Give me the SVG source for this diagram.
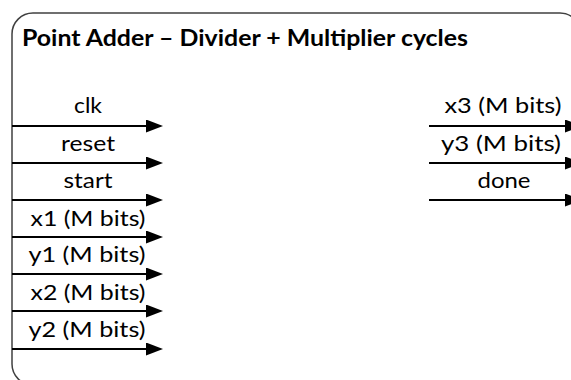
<svg xmlns="http://www.w3.org/2000/svg" width="571" height="380" viewBox="0 0 571 380">
  <style>
    .frame { fill: none; stroke: #404040; stroke-width: 1.5; }
    .title { font-family: Lato, "Open Sans", sans-serif; font-weight: bold; font-size: 22px; fill: #000; }
    .lbl { font-family: Lato, "Open Sans", sans-serif; font-size: 22px; fill: #000; text-anchor: middle; }
    .wire { stroke: #000; stroke-width: 2; fill: none; marker-end: url(#arrow); }
  </style>
  <defs>
    <marker id="arrow" viewBox="0 0 17 13" refX="0" refY="6.5" markerUnits="userSpaceOnUse" markerWidth="17" markerHeight="13" orient="auto">
      <path d="M0,0 L17,6.5 L0,13 Z" fill="#000"/>
    </marker>
  </defs>

  <!-- module outline -->
  <g id="module">
    <rect class="frame" x="12" y="13" width="569" height="372" rx="21" ry="21"/>
    <text class="title" x="22" y="46" textLength="446" lengthAdjust="spacingAndGlyphs">Point Adder – Divider + Multiplier cycles</text>
  </g>

  <!-- input ports -->
  <g id="in-clk"><text class="lbl" x="88" y="113" textLength="28" lengthAdjust="spacingAndGlyphs">clk</text></g>
  <g id="in-reset"><text class="lbl" x="88" y="151" textLength="54" lengthAdjust="spacingAndGlyphs">reset</text></g>
  <g id="in-start"><text class="lbl" x="88" y="188" textLength="49" lengthAdjust="spacingAndGlyphs">start</text></g>
  <g id="in-x1"><text class="lbl" x="88" y="226" textLength="115" lengthAdjust="spacingAndGlyphs">x1 (M bits)</text></g>
  <g id="in-y1"><text class="lbl" x="87" y="262" textLength="117" lengthAdjust="spacingAndGlyphs">y1 (M bits)</text></g>
  <g id="in-x2"><text class="lbl" x="88" y="300" textLength="115" lengthAdjust="spacingAndGlyphs">x2 (M bits)</text></g>
  <g id="in-y2"><text class="lbl" x="87" y="337" textLength="117" lengthAdjust="spacingAndGlyphs">y2 (M bits)</text></g>

  <!-- output ports -->
  <g id="out-x3"><text class="lbl" x="503" y="113" textLength="117" lengthAdjust="spacingAndGlyphs">x3 (M bits)</text></g>
  <g id="out-y3"><text class="lbl" x="501" y="151" textLength="120" lengthAdjust="spacingAndGlyphs">y3 (M bits)</text></g>
  <g id="out-done"><text class="lbl" x="504" y="188" textLength="53" lengthAdjust="spacingAndGlyphs">done</text></g>

  <!-- port connectors -->
  <g id="connectors">
    <line class="wire" x1="12" y1="126" x2="146" y2="126"/>
    <line class="wire" x1="12" y1="163" x2="146" y2="163"/>
    <line class="wire" x1="12" y1="200" x2="146" y2="200"/>
    <line class="wire" x1="12" y1="237" x2="146" y2="237"/>
    <line class="wire" x1="12" y1="274" x2="146" y2="274"/>
    <line class="wire" x1="12" y1="311" x2="146" y2="311"/>
    <line class="wire" x1="12" y1="349" x2="146" y2="349"/>
    <line class="wire" x1="429" y1="126" x2="565" y2="126"/>
    <line class="wire" x1="429" y1="163" x2="565" y2="163"/>
    <line class="wire" x1="429" y1="200" x2="565" y2="200"/>
  </g>
</svg>
